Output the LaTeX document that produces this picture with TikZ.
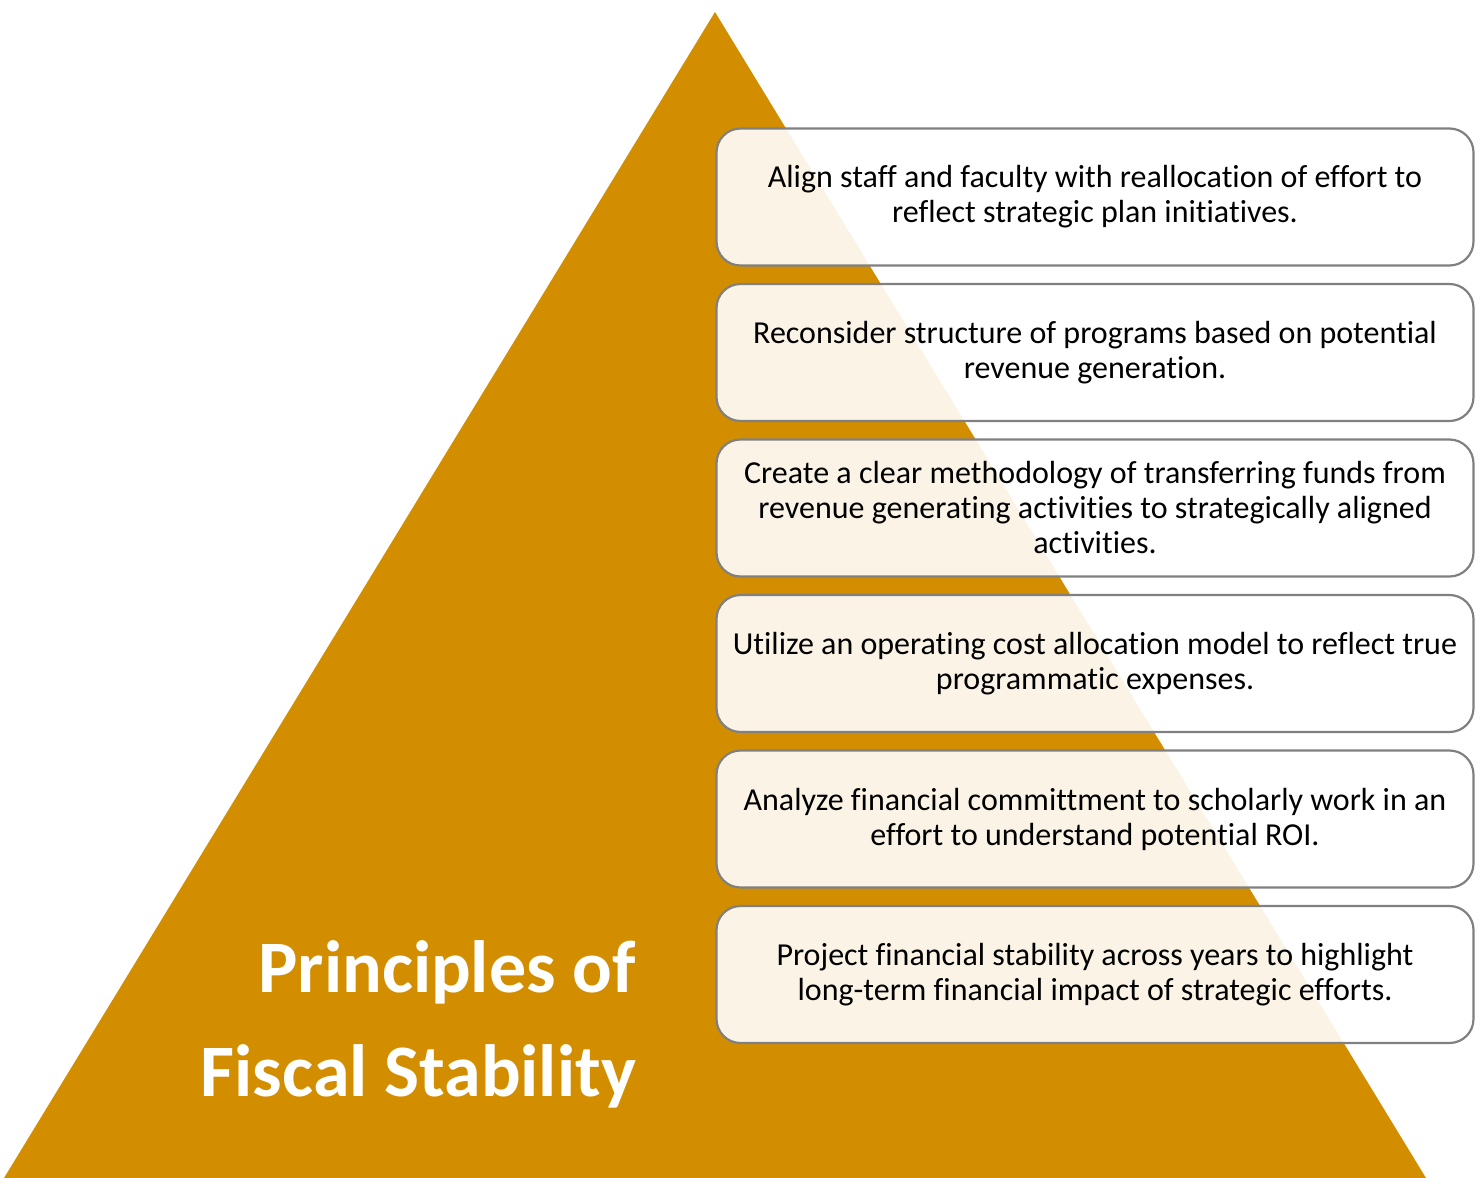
\documentclass[tikz,border=0pt]{standalone}
\usepackage{fontspec}
\setmainfont[Ligatures={NoCommon}]{Carlito}
\definecolor{gold}{RGB}{211,142,0}
\definecolor{boxline}{RGB}{128,128,128}
\begin{document}
\begin{tikzpicture}[x=1pt,y=-1pt,
  itembox/.style={draw=boxline, line width=2.2pt, rounded corners=24pt, fill=white, fill opacity=0.9, text opacity=1,
    minimum width=757pt, minimum height=137pt, align=center, font=\fontsize{32}{35}\selectfont, inner sep=0pt},
  title/.style={text=white, font=\bfseries\fontsize{74}{104}\selectfont, align=right, anchor=east, inner sep=0pt}]
\useasboundingbox (0,0) rectangle (1481,1178);
\fill[gold] (715,12) coordinate (apex) -- (4,1178) coordinate (bl) -- (1426,1178) coordinate (br) -- cycle;
\node[title] (t) at (636,1024) {Principles of\\Fiscal Stability};
\node[itembox] (b1) at (1095,197) {Align staff and faculty with reallocation of effort to\\reflect strategic plan initiatives.};
\node[itembox] (b2) at (1095,352.5) {Reconsider structure of programs based on potential\\revenue generation.};
\node[itembox] (b3) at (1095,508) {Create a clear methodology of transferring funds from\\revenue generating activities to strategically aligned\\activities.};
\node[itembox] (b4) at (1095,663.5) {Utilize an operating cost allocation model to reflect true\\programmatic expenses.};
\node[itembox] (b5) at (1095,819) {Analyze financial committment to scholarly work in an\\effort to understand potential ROI.};
\node[itembox] (b6) at (1095,974.5) {Project financial stability across years to highlight\\long-term financial impact of strategic efforts.};
\end{tikzpicture}
\end{document}
